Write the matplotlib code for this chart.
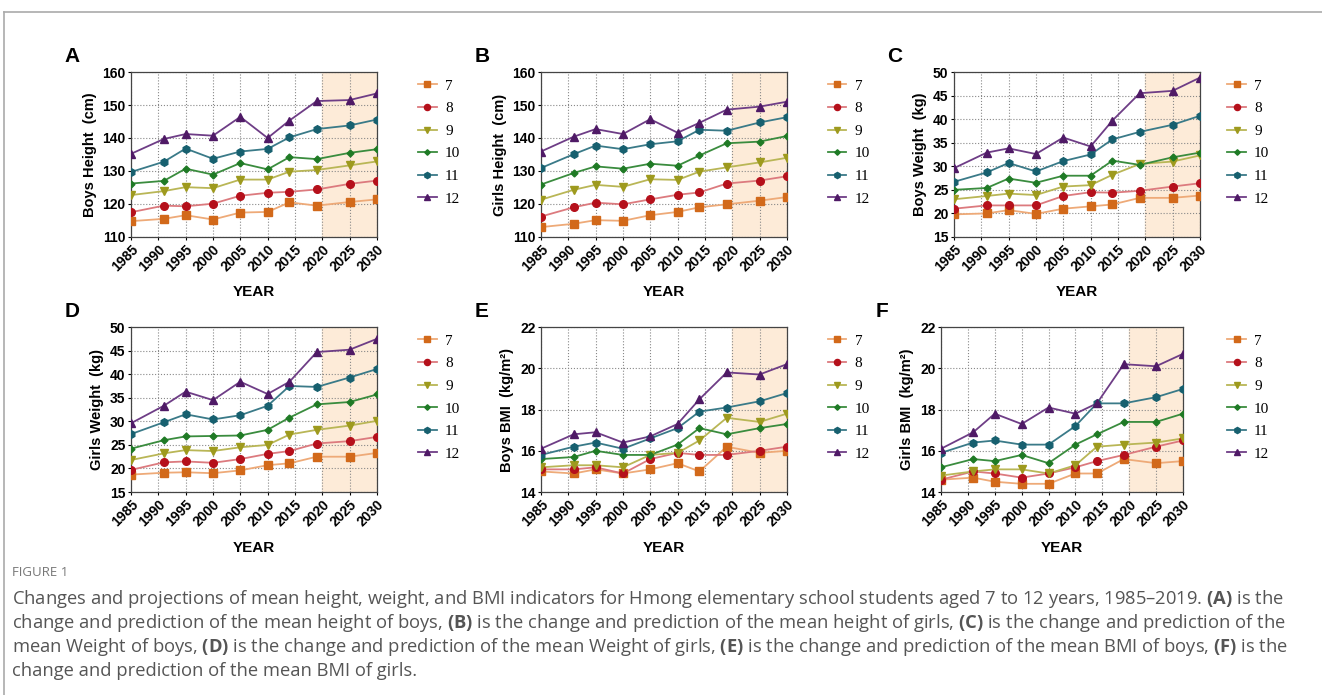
import matplotlib
matplotlib.use("Agg")
import matplotlib.pyplot as plt
from matplotlib.lines import Line2D

plt.rcParams['font.family'] = ['Liberation Sans', 'DejaVu Sans']
plt.rcParams['mathtext.fontset'] = 'custom'
plt.rcParams['mathtext.rm'] = 'Open Sans'
plt.rcParams['mathtext.bf'] = 'Open Sans:bold'

# survey / projection years
years = [1985, 1991, 1995, 2000, 2005, 2010, 2014, 2019, 2025, 2030]
ages = ["7", "8", "9", "10", "11", "12"]

# A: boys height (cm), one list per age 7..12
boys_height = [
    [114.8, 115.5, 116.6, 115.3, 117.4, 117.6, 120.5, 119.5, 120.6, 121.4],
    [117.5, 119.5, 119.3, 120.1, 122.5, 123.4, 123.7, 124.4, 126.1, 127.1],
    [122.7, 123.9, 125.1, 124.8, 127.4, 127.4, 129.8, 130.3, 131.7, 132.9],
    [126.2, 127.0, 130.7, 128.9, 132.4, 130.5, 134.2, 133.6, 135.5, 136.6],
    [129.7, 132.8, 136.8, 133.7, 135.9, 136.7, 140.2, 142.7, 143.8, 145.6],
    [135.2, 139.7, 141.2, 140.7, 146.4, 140.0, 145.3, 151.2, 151.5, 153.5],
]
# B: girls height (cm)
girls_height = [
    [113.0, 114.0, 115.1, 114.9, 116.6, 117.6, 119.0, 119.9, 121.0, 122.1],
    [116.2, 119.0, 120.4, 119.9, 121.4, 122.8, 123.5, 126.2, 127.1, 128.4],
    [121.3, 124.3, 125.8, 125.2, 127.5, 127.3, 129.8, 131.1, 132.6, 134.0],
    [125.9, 129.4, 131.4, 130.7, 132.2, 131.6, 134.7, 138.4, 138.9, 140.6],
    [130.9, 135.1, 137.7, 136.6, 138.1, 139.0, 142.5, 142.2, 144.7, 146.3],
    [135.9, 140.4, 142.7, 141.2, 145.7, 141.6, 144.6, 148.6, 149.5, 151.0],
]
# C: boys weight (kg)
boys_weight = [
    [19.8, 20.0, 20.7, 19.9, 21.0, 21.5, 21.9, 23.3, 23.3, 23.8],
    [21.0, 21.7, 21.7, 21.7, 23.7, 24.5, 24.4, 24.8, 25.7, 26.4],
    [23.0, 23.7, 24.2, 23.9, 25.7, 26.0, 28.2, 30.5, 31.0, 32.3],
    [25.0, 25.4, 27.4, 26.5, 28.0, 28.0, 31.2, 30.3, 31.9, 32.9],
    [26.7, 28.7, 30.7, 28.9, 31.1, 32.5, 35.7, 37.3, 38.8, 40.7],
    [29.6, 32.9, 33.8, 32.6, 36.1, 34.2, 39.7, 45.5, 46.0, 48.8],
]
# D: girls weight (kg)
girls_weight = [
    [18.7, 19.1, 19.2, 19.0, 19.6, 20.7, 21.1, 22.5, 22.5, 23.3],
    [19.7, 21.3, 21.5, 21.2, 22.0, 23.1, 23.7, 25.3, 25.8, 26.7],
    [21.8, 23.2, 23.9, 23.7, 24.5, 25.0, 27.2, 28.2, 29.1, 30.1],
    [24.2, 26.0, 26.8, 26.9, 27.0, 28.2, 30.8, 33.6, 34.1, 35.7],
    [27.3, 29.8, 31.5, 30.4, 31.3, 33.3, 37.5, 37.3, 39.3, 41.1],
    [29.6, 33.3, 36.3, 34.5, 38.4, 35.8, 38.4, 44.7, 45.2, 47.5],
]
# E: boys BMI (kg/m2)
boys_bmi = [
    [15.0, 14.9, 15.1, 14.9, 15.1, 15.4, 15.0, 16.2, 15.9, 16.0],
    [15.1, 15.1, 15.2, 14.9, 15.6, 15.9, 15.8, 15.8, 16.0, 16.2],
    [15.2, 15.3, 15.3, 15.2, 15.8, 15.9, 16.5, 17.6, 17.4, 17.8],
    [15.6, 15.7, 16.0, 15.8, 15.8, 16.3, 17.1, 16.8, 17.1, 17.3],
    [15.8, 16.2, 16.4, 16.1, 16.6, 17.1, 17.9, 18.1, 18.4, 18.8],
    [16.1, 16.8, 16.9, 16.4, 16.7, 17.3, 18.5, 19.8, 19.7, 20.2],
]
# F: girls BMI (kg/m2)
girls_bmi = [
    [14.6, 14.7, 14.5, 14.4, 14.4, 14.9, 14.9, 15.6, 15.4, 15.5],
    [14.6, 15.0, 14.9, 14.7, 14.9, 15.2, 15.5, 15.8, 16.2, 16.5],
    [14.8, 15.0, 15.1, 15.1, 14.9, 15.3, 16.2, 16.3, 16.4, 16.6],
    [15.2, 15.6, 15.5, 15.8, 15.4, 16.3, 16.8, 17.4, 17.4, 17.8],
    [15.9, 16.4, 16.5, 16.3, 16.3, 17.2, 18.3, 18.3, 18.6, 19.0],
    [16.1, 16.9, 17.8, 17.3, 18.1, 17.8, 18.3, 20.2, 20.1, 20.7],
]

marker_colors = ["#d2691a", "#b5101b", "#9e9a1e", "#1f7a25", "#17606f", "#4f1a66"]
line_colors = ["#eeaa78", "#dc7a7e", "#b9b656", "#3a8c3e", "#3a7a88", "#6e3d86"]
markers = ["s", "o", "v", "D", "h", "^"]
msizes = [5.5, 5.5, 5.5, 3.5, 5.5, 5.5]

# (label, data, ylabel, ylim, yticks, axes rect, legend anchor)
panels = [
    ("A", boys_height, "Boys Height  (cm)", (110, 160), range(110, 161, 10),
     [0.0991, 0.659, 0.186, 0.2374], (0.306, 0.906)),
    ("B", girls_height, "Girls Height  (cm)", (110, 160), range(110, 161, 10),
     [0.4092, 0.659, 0.186, 0.2374], (0.616, 0.906)),
    ("C", boys_weight, "Boys Weight  (kg)", (15, 50), range(15, 51, 5),
     [0.7216, 0.659, 0.186, 0.2374], (0.918, 0.906)),
    ("D", girls_weight, "Girls Weight  (kg)", (15, 50), range(15, 51, 5),
     [0.0991, 0.292, 0.186, 0.2374], (0.306, 0.539)),
    ("E", boys_bmi, "Boys BMI  (kg/m²)", (14, 22), range(14, 23, 2),
     [0.4092, 0.292, 0.186, 0.2374], (0.616, 0.539)),
    ("F", girls_bmi, "Girls BMI  (kg/m²)", (14, 22), range(14, 23, 2),
     [0.7118, 0.292, 0.183, 0.2374], (0.918, 0.539)),
]

fig = plt.figure(figsize=(13.22, 6.95), dpi=100)

for letter, data, ylabel, ylim, yticks, rect, leg_xy in panels:
    ax = fig.add_axes(rect)
    ax.axvspan(2020, 2030, color="#fdebd8", zorder=0)
    for i in range(len(ages)):
        ax.plot(years, data[i], color=line_colors[i], lw=1.3, zorder=2)
        ax.plot(years, data[i], ls="none", marker=markers[i], ms=msizes[i],
                color=marker_colors[i], zorder=3)
    ax.set_xlim(1985, 2030)
    ax.set_ylim(*ylim)
    ax.set_xticks(range(1985, 2031, 5))
    ax.set_yticks(list(yticks))
    ax.grid(True, color="#888888", ls=":", lw=0.8, zorder=1)
    ax.set_axisbelow(True)
    ax.tick_params(length=2, labelsize=10, pad=2)
    for t in ax.get_xticklabels():
        t.set_rotation(45)
        t.set_ha("right")
        t.set_rotation_mode("anchor")
        t.set_fontweight("bold")
    for t in ax.get_yticklabels():
        t.set_fontweight("bold")
    for s in ax.spines.values():
        s.set_color("#444444")
        s.set_linewidth(0.9)
    ax.set_xlabel("YEAR", fontsize=11, fontweight="bold", labelpad=8)
    ax.set_ylabel(ylabel, fontsize=10.5, fontweight="bold", labelpad=4)
    ax.text(-0.27, 1.15, letter, transform=ax.transAxes, fontsize=15,
            fontweight="bold", va="top")

    handles = [Line2D([0], [0], color=line_colors[i], lw=1.3, marker=markers[i],
                      ms=msizes[i] * 0.8, markerfacecolor=marker_colors[i],
                      markeredgecolor=marker_colors[i]) for i in range(len(ages))]
    ax.legend(handles, ages, loc="upper left", bbox_to_anchor=leg_xy,
              bbox_transform=fig.transFigure, frameon=False,
              prop={"family": "Liberation Serif", "size": 11},
              handlelength=1.2, handletextpad=0.55, labelspacing=0.58)

# card frame (top and left rules)
fig.add_artist(Line2D([0.003, 1.0], [0.983, 0.983], color="#aaaaaa", lw=1.2,
                      transform=fig.transFigure))
fig.add_artist(Line2D([0.003, 0.003], [0.0, 0.983], color="#aaaaaa", lw=1.2,
                      transform=fig.transFigure))

cap_color = "#555555"
fig.text(0.009, 0.171, "FIGURE 1", fontsize=9.5, color="#777777", family="Open Sans")
caption = [
    r"Changes and projections of mean height, weight, and BMI indicators for Hmong elementary school students aged 7 to 12 years, 1985–2019. $\bf{(A)}$ is the",
    r"change and prediction of the mean height of boys, $\bf{(B)}$ is the change and prediction of the mean height of girls, $\bf{(C)}$ is the change and prediction of the",
    r"mean Weight of boys, $\bf{(D)}$ is the change and prediction of the mean Weight of girls, $\bf{(E)}$ is the change and prediction of the mean BMI of boys, $\bf{(F)}$ is the",
    r"change and prediction of the mean BMI of girls.",
]
for k, line in enumerate(caption):
    fig.text(0.009, 0.131 - k * 0.0345, line, fontsize=13.2, color=cap_color,
             family="Open Sans")

fig.savefig("out.png", dpi=100)
